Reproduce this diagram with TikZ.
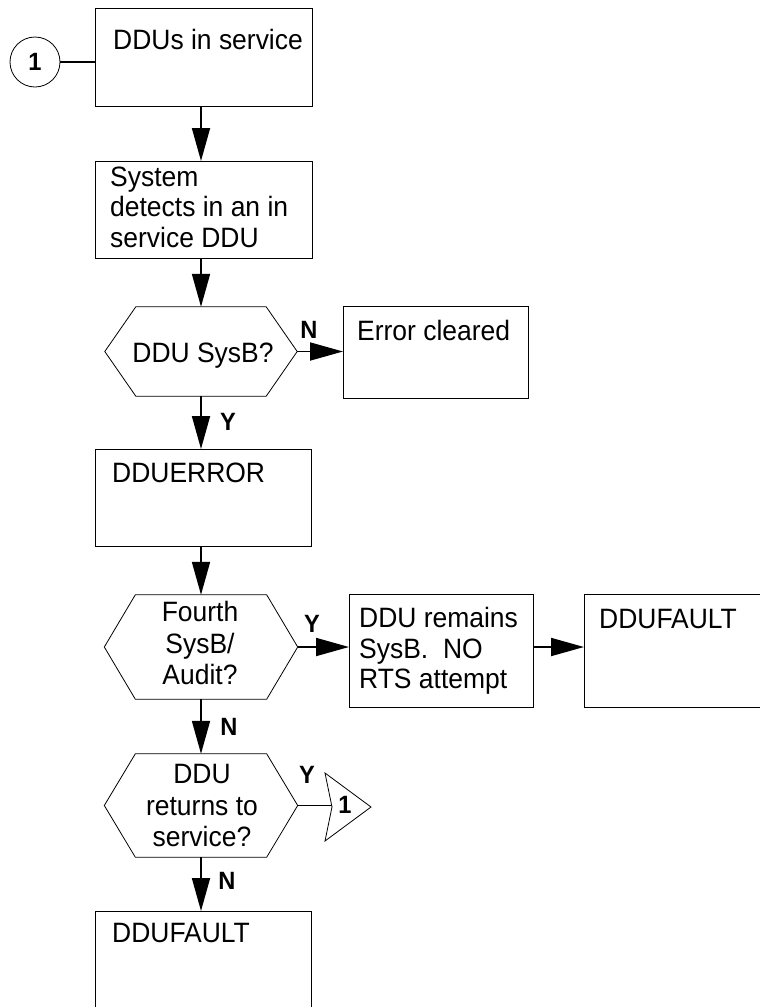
\documentclass[tikz,border=0pt]{standalone}
\usepackage{fontspec}
\setmainfont{Liberation Sans}[FakeStretch=0.945]
\usetikzlibrary{arrows.meta}
\begin{document}
\begin{tikzpicture}[x=1pt,y=-1pt,
  box/.style n args={2}{draw, line width=0.8pt, inner sep=0pt, minimum width=#1, minimum height=#2, anchor=north west},
  hexa/.style n args={2}{inner sep=0pt, minimum width=#1, minimum height=#2},
  txt/.style={inner sep=0pt, anchor=base west, font=\fontsize{28}{30.5}\selectfont},
  mtxt/.style={inner sep=0pt, anchor=north west, align=left, font=\fontsize{28}{30.5}\selectfont},
  ctxt/.style={inner sep=0pt, anchor=north, align=center, font=\fontsize{28}{31.5}\selectfont},
  lbl/.style={inner sep=0pt, anchor=base, font=\fontsize{25}{30}\selectfont\bfseries},
  circ/.style={circle, draw, line width=0.8pt, minimum size=50pt, inner sep=0pt, font=\fontsize{25}{28}\selectfont\bfseries},
  arr/.style={line width=1.8pt, -{Triangle[length=33pt,width=18pt]}},
  conn/.style={line width=1.8pt},
  outline/.style={line width=0.8pt, line join=miter}
]
\useasboundingbox (0,0) rectangle (760,1007);
\clip (0,0) rectangle (760,1007);

% connector circle
\node[circ] (c1) at (35,62) {1};

% boxes
\node[box={217pt}{98pt}] (b1) at (95,8) {};
\node[txt] (t1) at (113,49) {DDUs in service};

\node[box={217pt}{97pt}] (b2) at (95,161) {};
\node[mtxt] (t2) at (110,166.5) {System\\detects in an in\\service DDU};

\node[hexa={192pt}{89pt}] (hex1) at (201,351.5) {};
\node[txt, anchor=base] (th1) at (203,362) {DDU SysB?};

\node[box={185pt}{92pt}] (err) at (343,306) {};
\node[txt] (terr) at (357,340) {Error cleared};

\node[box={216pt}{97pt}] (ddue) at (95,449) {};
\node[txt] (tddue) at (112,482) {DDUERROR};

\node[hexa={193pt}{104pt}] (hex2) at (201,647) {};
\node[ctxt] (th2) at (200,601.5) {Fourth\\SysB/\\Audit?};

\node[box={184pt}{113pt}] (rem) at (349,594) {};
\node[mtxt] (trem) at (359,607.5) {DDU remains\\SysB.\ \ NO\\RTS attempt};

\node[box={217pt}{113pt}] (fault1) at (584,594) {};
\node[txt] (tfault1) at (599,628) {DDUFAULT};

\node[hexa={193pt}{103pt}] (hex3) at (201,805.5) {};
\node[ctxt] (th3) at (202,764.5) {DDU\\returns to\\service?};

\node[box={216pt}{98pt}] (fault2) at (95,911) {};
\node[txt] (tfault2) at (112,942) {DDUFAULT};

% hexagon outlines
\foreach \h in {hex1,hex2,hex3}
  \draw[outline] (\h.west) -- ([xshift=31pt]\h.north west) -- ([xshift=-31pt]\h.north east)
    -- (\h.east) -- ([xshift=-31pt]\h.south east) -- ([xshift=31pt]\h.south west) -- cycle;

% off-page connector
\coordinate (tn) at (332,807);
\coordinate (ttop) at (325,773);
\coordinate (ttip) at (371,807);
\coordinate (tbot) at (325,841);
\draw[outline] (ttop) -- (ttip) -- (tbot) -- (tn) -- cycle;
\node[lbl] (tone) at (345,813) {1};

% labels
\node[lbl] (lN1) at (309,338) {N};
\node[lbl] (lY1) at (228,430) {Y};
\node[lbl] (lY2) at (312,632) {Y};
\node[lbl] (lN2) at (229,735) {N};
\node[lbl] (lY3) at (307,783) {Y};
\node[lbl] (lN3) at (227,889) {N};

% connectors
\draw[conn] (c1.east) -- (c1.east -| b1.west);
\draw[arr] (b1.south -| hex1.north) -- (b2.north -| hex1.north);
\draw[arr] (b2.south -| hex1.north) -- (hex1.north);
\draw[arr] (hex1.east) -- (err.west |- hex1.east);
\draw[arr] (hex1.south) -- (ddue.north -| hex1.south);
\draw[arr] (ddue.south -| hex2.north) -- (hex2.north);
\draw[arr] (hex2.east) -- (rem.west |- hex2.east);
\draw[arr] (rem.east |- hex2.east) -- (fault1.west |- hex2.east);
\draw[arr] (hex2.south) -- (hex3.north);
\draw[conn] (hex3.east) -- (hex3.east -| tn);
\draw[arr] (hex3.south) -- (fault2.north -| hex3.south);
\end{tikzpicture}
\end{document}
